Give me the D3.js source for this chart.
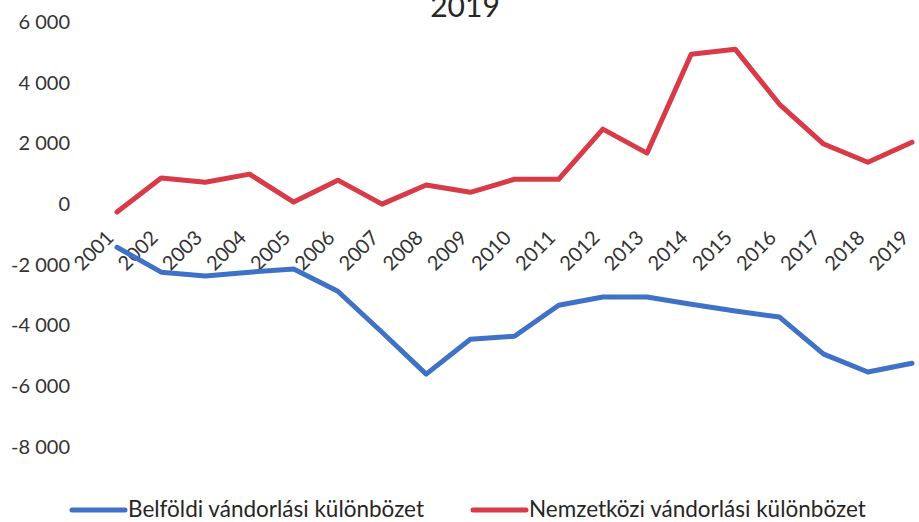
<!DOCTYPE html>
<html>
<head>
<meta charset="utf-8">
<title>Vándorlási különbözet 2001-2019</title>
<style>
  body { margin: 0; background: #fff; }
  svg text { font-family: Lato, "Open Sans", sans-serif; }
</style>
</head>
<body>
<svg id="chart" width="919" height="522"></svg>
<script src="https://d3js.org/d3.v7.min.js"></script>
<script>
// data
var years = ['2001','2002','2003','2004','2005','2006','2007','2008','2009','2010',
             '2011','2012','2013','2014','2015','2016','2017','2018','2019'];
var belfoldi = [-1420, -2240, -2370, -2240, -2140, -2870, -4220, -5600, -4450, -4350,
                -3330, -3060, -3060, -3300, -3520, -3720, -4940, -5530, -5240];
var nemzetkozi = [-260, 860, 720, 990, 70, 790, 0, 630, 390, 820,
                  820, 2470, 1680, 4940, 5100, 3290, 1980, 1380, 2040];
var yTicks = [6000, 4000, 2000, 0, -2000, -4000, -6000, -8000];
var seriesNames = ['Belföldi vándorlási különbözet', 'Nemzetközi vándorlási különbözet'];
var colors = ['#3f72c6', '#d83a47'];

var svg = d3.select('#chart');

var x = d3.scalePoint().domain(years).range([117, 912]);
var y = d3.scaleLinear().domain([-8000, 6000]).range([447, 22]);

var fmt = function (d) { return d3.format(',')(d).replace(/,/g, ' ').replace('−', '-'); };

// title (cut at the top like the original)
svg.append('text')
    .attr('x', 465).attr('y', 17)
    .attr('text-anchor', 'middle')
    .attr('font-size', 30)
    .attr('fill', '#262626')
    .text('2019');

// y axis labels only
var yAxis = d3.axisLeft(y).tickValues(yTicks).tickSize(0).tickPadding(0).tickFormat(fmt);
var gy = svg.append('g').attr('transform', 'translate(70,0)').call(yAxis);
gy.select('.domain').remove();
gy.selectAll('text')
    .attr('font-size', 20)
    .attr('fill', '#333')
    .style('font-family', 'Lato, sans-serif');

// x labels, rotated
svg.append('g').selectAll('text')
    .data(years)
    .join('text')
    .attr('transform', function (d) { return 'translate(' + (x(d) - 2) + ',239) rotate(-45)'; })
    .attr('text-anchor', 'end')
    .attr('font-size', 20)
    .attr('fill', '#333')
    .text(function (d) { return d; });

// lines
var line = d3.line()
    .x(function (d, i) { return x(years[i]); })
    .y(function (d) { return y(d); });

[belfoldi, nemzetkozi].forEach(function (s, k) {
    svg.append('path')
        .datum(s)
        .attr('d', line)
        .attr('fill', 'none')
        .attr('stroke', colors[k])
        .attr('stroke-width', 5)
        .attr('stroke-linejoin', 'round')
        .attr('stroke-linecap', 'round');
});

// legend
var legendX = [72, 473];
seriesNames.forEach(function (name, k) {
    var g = svg.append('g').attr('transform', 'translate(' + legendX[k] + ',510)');
    g.append('line')
        .attr('x1', 0).attr('x2', 53)
        .attr('stroke', colors[k])
        .attr('stroke-width', 5)
        .attr('stroke-linecap', 'round');
    g.append('text')
        .attr('x', 56).attr('y', 7)
        .attr('font-size', 22.5)
        .attr('fill', '#262626')
        .text(name);
});
</script>
</body>
</html>
